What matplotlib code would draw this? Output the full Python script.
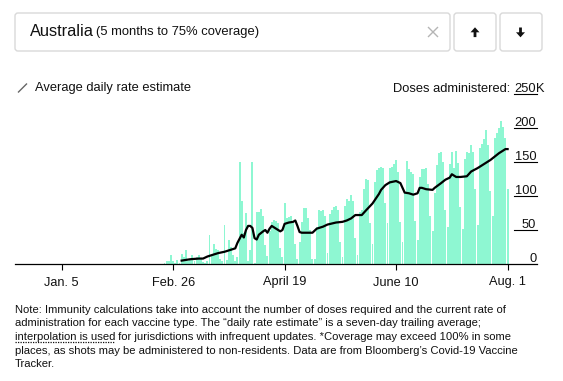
import pandas as pd
import numpy as np
import matplotlib.pyplot as plt
from matplotlib.patches import FancyBboxPatch, Polygon

plt.rcParams['font.family'] = ['Liberation Sans', 'DejaVu Sans']

# Daily doses administered in Australia (thousands), Mon 22 Feb 2021 .. Sun 1 Aug 2021
start_date = '2021-02-22'
daily_doses_k = [
    2, 4, 5, 13, 5, 2, 6,
    2, 14, 11, 20, 5, 8, 13,
    4, 11, 13, 7, 3, 2, 5,
    43, 12, 29, 22, 21, 8, 4,
    57, 6, 36, 25, 13, 4, 10,
    150, 92, 45, 75, 5, 20, 150,
    1, 77, 76, 81, 71, 28, 12,
    48, 62, 65, 63, 60, 23, 11,
    90, 67, 69, 70, 60, 30, 8,
    33, 62, 83, 82, 67, 50, 8,
    7, 55, 79, 78, 80, 70, 16,
    73, 79, 84, 85, 79, 33, 11,
    86, 96, 93, 101, 92, 38, 13,
    77, 79, 111, 125, 123, 60, 30,
    120, 138, 141, 143, 141, 89, 60,
    141, 143, 147, 153, 136, 62, 33,
    105, 152, 140, 135, 132, 63, 35,
    128, 140, 139, 141, 118, 70, 48,
    105, 146, 163, 164, 150, 79, 55,
    147, 165, 141, 166, 148, 84, 52,
    155, 165, 163, 175, 164, 110, 57,
    170, 177, 184, 197, 175, 107, 71,
    185, 193, 200, 210, 202, 185, 111,
]

# Average daily rate estimate (day offset from start, thousands)
avg_day = [8, 12, 16, 18, 20, 22, 25, 28, 31, 33, 34, 36, 37, 38, 39, 40, 41, 42, 43, 44,
           46, 47, 48, 49, 50, 52, 54, 55, 56, 58, 60, 61, 62, 63, 64, 66, 69, 71, 74, 76,
           80, 83, 85, 87, 89, 92, 94, 97, 100, 101, 103, 105, 108, 110, 111, 112, 114, 116,
           118, 119, 120, 122, 125, 126, 129, 131, 133, 134, 136, 138, 141, 143, 146, 149,
           152, 156, 159, 160]
avg_value = [5, 7, 8, 8, 11, 13, 16, 18, 21, 23, 31, 43, 39, 50, 56, 56, 53, 38, 36, 43,
             48, 50, 46, 52, 56, 52, 48, 50, 59, 61, 62, 64, 56, 47, 46, 46, 46, 52, 55, 58,
             61, 62, 64, 67, 72, 72, 79, 89, 103, 109, 116, 120, 122, 119, 112, 105, 104, 102,
             104, 112, 112, 110, 109, 112, 119, 124, 127, 132, 128, 128, 129, 136, 141, 147,
             153, 163, 169, 169]

tick_dates = ['2021-01-05', '2021-02-26', '2021-04-19', '2021-06-10', '2021-08-01']
tick_labels = ['Jan. 5', 'Feb. 26', 'April 19', 'June 10', 'Aug. 1']
y_ticks = [0, 50, 100, 150, 200, 250]

note_lines = [
    'Note: Immunity calculations take into account the number of doses required and the current rate of',
    'administration for each vaccine type. The \u201cdaily rate estimate\u201d is a seven-day trailing average;',
    'interpolation is used',
    'places, as shots may be administered to non-residents. Data are from Bloomberg\u2019s Covid-19 Vaccine',
    'Tracker.',
]
note_line3_rest = ' for jurisdictions with infrequent updates. *Coverage may exceed 100% in some'

BAR_COLOR = '#8ef7d2'
W, H = 563, 381

fig = plt.figure(figsize=(W / 100, H / 100), dpi=100)

# overlay in pixel units for the header, legend and note
ov = fig.add_axes([0, 0, 1, 1])
ov.set_xlim(0, W)
ov.set_ylim(H, 0)
ov.axis('off')

# search box and arrow buttons
for x0, w in [(15, 435), (454, 42), (500, 42)]:
    ov.add_patch(FancyBboxPatch((x0, 13), w, 38, boxstyle='round,pad=0,rounding_size=3',
                                fc='white', ec='#d9d9d9', lw=1))
ov.text(30, 32, 'Australia', fontsize=11.8, va='center', color='#111111')
ov.text(96, 32.5, '(5 months to 75% coverage)', fontsize=9.4, va='center', color='#111111')
ov.plot([428.5, 437.5], [27.5, 36.5], color='#b5b5b5', lw=1)
ov.plot([428.5, 437.5], [36.5, 27.5], color='#b5b5b5', lw=1)


def arrow(cx, up=True):
    s = -1 if up else 1
    cy = 32.3
    pts = [(cx, cy + s * 5), (cx - 4.5, cy), (cx - 1.4, cy), (cx - 1.4, cy - s * 4.8),
           (cx + 1.4, cy - s * 4.8), (cx + 1.4, cy), (cx + 4.5, cy)]
    ov.add_patch(Polygon(pts, closed=True, fc='#111111', ec='none'))


arrow(475, up=True)
arrow(520.5, up=False)

# legend
ov.plot([18.5, 26.5], [92, 84], color='#666666', lw=1)
ov.text(35, 88, 'Average daily rate estimate', fontsize=9.3, va='center', color='#111111')

# note at the bottom
note_y = [310, 323.5, 337, 350.5, 364]
for i, line in enumerate(note_lines):
    ov.text(15, note_y[i], line, fontsize=8.15, va='center', color='#111111')
fig.canvas.draw()
r = fig.canvas.get_renderer()
interp = ov.texts[-3]
bb = interp.get_window_extent(r)
x_end = bb.x1 * W / fig.bbox.width
ov.text(x_end, note_y[2], note_line3_rest, fontsize=8.15, va='center', color='#111111')
ov.plot([15, x_end], [note_y[2] + 5, note_y[2] + 5], color='#111111', lw=0.9, ls=(0, (1, 1)))

# chart
ax = fig.add_axes([15 / W, (H - 264) / H, 522 / W, 170 / H])
dates = pd.date_range(start_date, periods=len(daily_doses_k), freq='D')
ax.bar(dates, daily_doses_k, width=0.9, color=BAR_COLOR, linewidth=0, zorder=1)
line_dates = pd.Timestamp(start_date) + pd.to_timedelta(avg_day, unit='D')
ax.plot(line_dates, avg_value, color='black', lw=1.6, solid_joinstyle='round', zorder=3)

ax.set_xlim(pd.Timestamp('2020-12-14 07:00'), pd.Timestamp('2021-08-14 17:00'))
ax.set_ylim(0, 250)
for s in ['top', 'left', 'right']:
    ax.spines[s].set_visible(False)
ax.spines['bottom'].set_linewidth(0.9)
ax.patch.set_alpha(0)
ax.set_yticks([])
ax.set_xticks(pd.to_datetime(tick_dates))
ax.set_xticklabels(tick_labels, fontsize=9.2, color='#111111')
ax.tick_params(axis='x', length=4, width=0.8, pad=5)

# y labels sit on short underlines at the right edge
ytr = ax.get_yaxis_transform()
for v in y_ticks:
    if v > 0:
        ax.plot([(514 - 15) / 522, 1.0], [v, v], transform=ytr, color='black', lw=0.8, clip_on=False)
    ax.annotate(str(v), xy=(1.0, v), xycoords=ytr, xytext=(-0.5, 1.3), textcoords='offset points',
                ha='right', va='baseline', fontsize=9.3, color='#111111')
ax.annotate('K', xy=(1.0, 250), xycoords=ytr, xytext=(-0.6, 1.3), textcoords='offset points',
            ha='left', va='baseline', fontsize=9.3, color='#111111')
ax.annotate('Doses administered:', xy=((514 - 15) / 522, 250), xycoords=ytr, xytext=(-2.5, 1.3),
            textcoords='offset points', ha='right', va='baseline', fontsize=9.3, color='#111111')

fig.savefig('out.png', dpi=100)
